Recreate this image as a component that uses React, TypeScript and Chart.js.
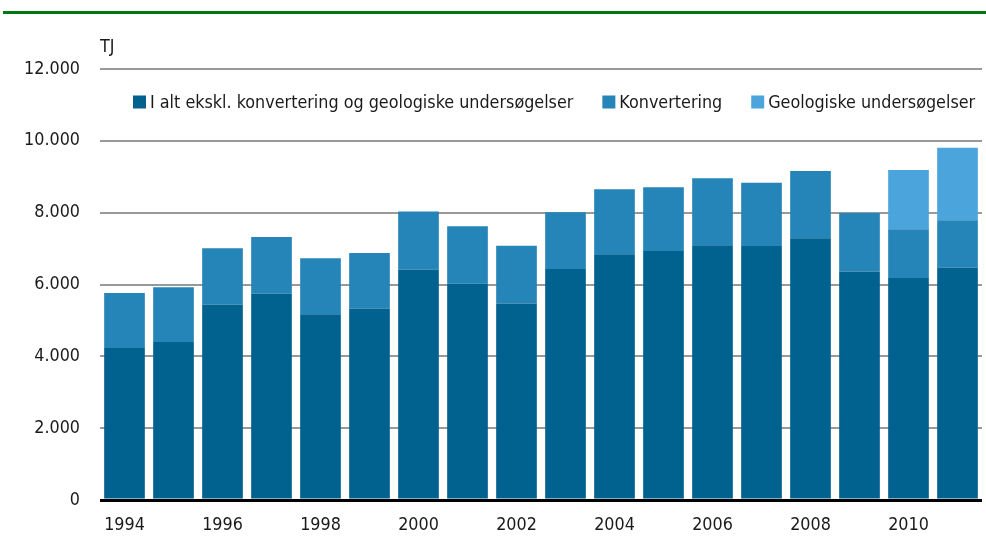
import React, { useEffect, useRef } from "react";
import { Chart, registerables } from "chart.js";

Chart.register(...registerables);

const years = [
  "1994", "1995", "1996", "1997", "1998", "1999", "2000", "2001", "2002",
  "2003", "2004", "2005", "2006", "2007", "2008", "2009", "2010", "2011",
];
const iAlt = [4230, 4400, 5440, 5750, 5170, 5330, 6410, 6020, 5470, 6430, 6840, 6930, 7090, 7070, 7290, 6360, 6180, 6470];
const konvertering = [1530, 1520, 1570, 1570, 1560, 1550, 1620, 1600, 1610, 1580, 1810, 1780, 1870, 1760, 1870, 1630, 1360, 1320];
const geologiske = [0, 0, 0, 0, 0, 0, 0, 0, 0, 0, 0, 0, 0, 0, 0, 0, 1650, 2020];
const seriesLabels = [
  "I alt ekskl. konvertering og geologiske undersøgelser",
  "Konvertering",
  "Geologiske undersøgelser",
];
const seriesColors = ["#02628f", "#2685b8", "#4ba5dc"];
const yTicks = [0, 2000, 4000, 6000, 8000, 10000, 12000];
const unitLabel = "TJ";

const FONT = "'DejaVu Sans Condensed', 'Liberation Sans', sans-serif";
const FS = 17.8;

const fmt = (v: number) => String(v).replace(/\B(?=(\d{3})+(?!\d))/g, ".");

const decorPlugin = {
  id: "decor",
  afterDraw(chart: any) {
    const { ctx, chartArea } = chart;
    ctx.save();
    // green rule at top
    ctx.strokeStyle = "#007a0f";
    ctx.lineWidth = 3;
    ctx.beginPath();
    ctx.moveTo(3, 12.5);
    ctx.lineTo(986, 12.5);
    ctx.stroke();
    // unit label
    ctx.fillStyle = "#1a1a1a";
    ctx.font = `${FS}px ${FONT}`;
    ctx.textBaseline = "middle";
    ctx.textAlign = "left";
    ctx.fillText(unitLabel, chartArea.left, 47);
    // legend
    let x = chartArea.left + 33;
    const y = chartArea.top + 33;
    chart.data.datasets.forEach((ds: any) => {
      ctx.fillStyle = ds.backgroundColor;
      ctx.fillRect(x, y - 6.5, 13, 13);
      ctx.fillStyle = "#1a1a1a";
      ctx.fillText(ds.label, x + 17, y + 1);
      x += 17 + ctx.measureText(ds.label).width + 29;
    });
    ctx.restore();
  },
};

export default function App() {
  const ref = useRef<HTMLCanvasElement | null>(null);
  useEffect(() => {
    if (!ref.current) return;
    const data = [iAlt, konvertering, geologiske];
    const chart = new Chart(ref.current, {
      type: "bar",
      data: {
        labels: years,
        datasets: data.map((d, i) => ({
          label: seriesLabels[i],
          data: d,
          backgroundColor: seriesColors[i],
          borderWidth: 0,
          barPercentage: 0.83,
          categoryPercentage: 1,
        })),
      },
      options: {
        animation: false,
        responsive: true,
        maintainAspectRatio: false,
        layout: { padding: { top: 69, right: 4, left: 0, bottom: 0 } },
        plugins: {
          legend: { display: false },
          tooltip: { enabled: false },
          title: { display: false },
        },
        scales: {
          x: {
            stacked: true,
            grid: { display: false, drawTicks: false },
            border: { display: false },
            ticks: {
              autoSkip: false,
              maxRotation: 0,
              padding: 15,
              color: "#1a1a1a",
              font: { family: FONT, size: FS },
              callback: (_v: any, i: number) => (i % 2 === 0 ? years[i] : ""),
            },
            afterFit: (s: any) => {
              s.height = 38;
            },
          },
          y: {
            stacked: true,
            min: 0,
            max: 12000,
            afterBuildTicks: (s: any) => {
              s.ticks = yTicks.map((v) => ({ value: v }));
            },
            grid: {
              drawTicks: false,
              color: (c: any) => (c.tick && c.tick.value === 0 ? "#000000" : "#999999"),
              lineWidth: (c: any) => (c.tick && c.tick.value === 0 ? 3 : 2),
            },
            border: { display: false },
            ticks: {
              padding: 20,
              color: "#1a1a1a",
              font: { family: FONT, size: FS },
              callback: (v: any) => fmt(Number(v)),
            },
            afterFit: (s: any) => {
              s.width = 100;
            },
          },
        },
      },
      plugins: [decorPlugin],
    });
    return () => chart.destroy();
  }, []);
  return (
    <div style={{ position: "fixed", left: 0, top: 0, width: 986, height: 538, background: "#fff" }}>
      <canvas ref={ref} />
    </div>
  );
}
